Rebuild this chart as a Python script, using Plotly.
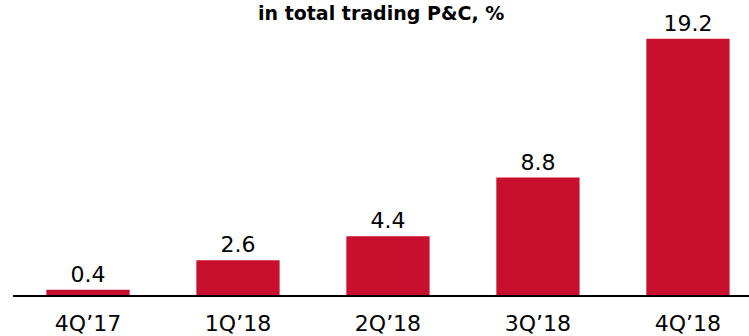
import plotly.graph_objects as go

quarters = ["4Q\u201917", "1Q\u201918", "2Q\u201918", "3Q\u201918", "4Q\u201918"]
share_pct = [0.4, 2.6, 4.4, 8.8, 19.2]
title_text = "in total trading P&C, %"

bar_color = "#C8102E"
font_family = "DejaVu Sans, Verdana, sans-serif"

fig = go.Figure(
    go.Bar(
        x=quarters,
        y=share_pct,
        marker=dict(color=bar_color, line=dict(width=0)),
        text=[f"{v:.1f}" for v in share_pct],
        textposition="outside",
        textfont=dict(family=font_family, size=22, color="#000000"),
        cliponaxis=False,
        hoverinfo="skip",
    )
)

# Chart heading, set at the very top of the canvas
fig.add_annotation(
    text=f"<b>{title_text}</b>",
    xref="paper",
    yref="paper",
    x=0.5,
    y=1.0,
    yshift=29,
    xanchor="center",
    yanchor="top",
    showarrow=False,
    borderpad=0,
    font=dict(family=font_family, size=19, color="#000000"),
)

fig.update_layout(
    width=749,
    height=336,
    margin=dict(l=13, r=0, t=30, b=39),
    paper_bgcolor="white",
    plot_bgcolor="white",
    bargap=0.445,
    showlegend=False,
    font=dict(family=font_family, color="#000000"),
)

fig.update_xaxes(
    type="category",
    range=[-0.5, 4.407],
    showline=True,
    linecolor="#000000",
    linewidth=2,
    showgrid=False,
    ticks="outside",
    ticklen=8,
    tickcolor="rgba(0,0,0,0)",
    tickfont=dict(family=font_family, size=22, color="#000000"),
    fixedrange=True,
)

fig.update_yaxes(
    range=[0, 19.85],
    visible=False,
    showgrid=False,
    zeroline=False,
    fixedrange=True,
)

fig.write_html("out.html", config={"displayModeBar": False})
